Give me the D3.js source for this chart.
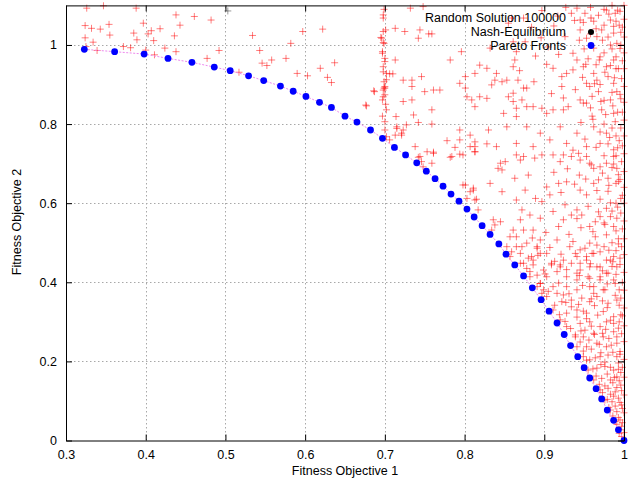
<!DOCTYPE html>
<html><head><meta charset="utf-8">
<script src="https://cdn.jsdelivr.net/npm/d3@7/dist/d3.min.js"></script>
<style>body{margin:0;background:#fff}svg text{font-family:"Liberation Sans",Arial,sans-serif}</style>
</head><body><svg id="c" width="629" height="484"></svg>
<script>
const xTicks=[0.3,0.4,0.5,0.6,0.7,0.8,0.9,1.0];
const xTickLabels=["0.3","0.4","0.5","0.6","0.7","0.8","0.9","1"];
const yTicks=[0,0.2,0.4,0.6,0.8,1.0];
const yTickLabels=["0","0.2","0.4","0.6","0.8","1"];
const xTitle="Fitness Objective 1";
const yTitle="Fitness Objective 2";
const legendLabels=["Random Solution 100000","Nash-Equilibrium","Pareto Fronts"];

const paretoX=[0.323,0.361,0.398,0.428,0.458,0.486,0.506,0.529,0.548,0.569,0.585,0.601,0.618,0.633,0.650,0.665,0.682,0.697,0.712,0.726,0.740,0.752,0.763,0.773,0.783,0.793,0.803,0.812,0.822,0.832,0.843,0.852,0.863,0.874,0.885,0.896,0.906,0.916,0.925,0.933,0.942,0.950,0.957,0.965,0.972,0.979,0.987,0.993,1.0];
const paretoY=[0.989,0.983,0.977,0.966,0.956,0.944,0.935,0.922,0.910,0.896,0.883,0.870,0.855,0.842,0.820,0.805,0.785,0.764,0.741,0.722,0.702,0.681,0.662,0.643,0.623,0.605,0.585,0.565,0.543,0.521,0.497,0.471,0.444,0.416,0.386,0.356,0.327,0.297,0.268,0.240,0.212,0.184,0.158,0.131,0.105,0.077,0.051,0.027,0.0];

const randomLeft=[[0.326,1.093],[0.347,1.099],[0.388,1.093],[0.324,1.049],[0.332,1.042],[0.343,1.040],[0.354,1.052],[0.355,1.025],[0.324,1.018],[0.334,1.007],[0.325,0.996],[0.339,0.986],[0.372,0.996],[0.381,0.993],[0.385,1.030],[0.389,1.013],[0.397,1.055],[0.403,1.028],[0.407,1.036],[0.410,1.011],[0.418,1.041],[0.438,1.076],[0.443,1.050],[0.436,1.023],[0.424,0.992],[0.438,0.983],[0.411,0.975],[0.400,0.987],[0.461,1.072],[0.482,1.063],[0.477,0.966],[0.492,0.986],[0.534,1.024],[0.543,0.986],[0.546,0.954],[0.552,0.948],[0.558,0.962],[0.576,0.966],[0.582,1.004],[0.597,1.034],[0.622,1.040],[0.590,0.928],[0.603,0.922],[0.619,0.941],[0.637,0.955],[0.628,0.918],[0.633,0.905],[0.517,0.931],[0.676,0.848],[0.687,0.882],[0.677,0.846],[0.686,0.884]];
const randomColumn=[[0.698,1.068],[0.696,1.017],[0.699,1.004],[0.697,0.979],[0.701,1.038],[0.700,0.958],[0.698,0.932],[0.702,0.912],[0.699,0.891],[0.700,0.874],[0.697,0.861],[0.695,1.019],[0.698,1.006],[0.697,0.983],[0.699,0.907],[0.700,0.895],[0.698,0.886],[0.706,0.927],[0.710,0.927],[0.714,0.819],[0.715,0.789],[0.721,0.777],[0.702,0.768],[0.698,1.076],[0.698,1.034],[0.700,0.966],[0.698,0.945],[0.702,0.928],[0.700,0.891],[0.698,0.869],[0.702,0.836],[0.700,0.806],[0.700,0.785],[0.699,1.090],[0.701,0.850],[0.697,0.820]];
const randomUpper=[[0.713,1.042],[0.713,0.962],[0.725,1.034],[0.732,1.093],[0.744,1.038],[0.755,1.028],[0.759,1.028],[0.742,1.017],[0.748,1.097],[0.723,0.911],[0.734,0.911],[0.734,0.895],[0.746,0.920],[0.750,0.882],[0.761,0.886],[0.769,0.886],[0.723,0.857],[0.734,0.861],[0.736,0.823],[0.759,0.836],[0.782,0.962],[0.796,0.983],[0.794,0.903],[0.801,0.920],[0.801,0.891],[0.803,0.869],[0.813,0.928],[0.819,0.949],[0.828,0.941],[0.840,0.928],[0.838,0.911],[0.847,0.907],[0.853,0.911],[0.861,0.878],[0.855,0.869],[0.861,0.857],[0.874,0.891],[0.878,0.891],[0.867,0.911],[0.872,0.861],[0.878,0.844],[0.886,0.844],[0.865,0.840],[0.861,0.945],[0.863,0.962],[0.865,0.983],[0.861,1.008],[0.855,1.055],[0.859,1.068],[0.874,1.068],[0.832,0.992],[0.834,0.899],[0.809,0.861],[0.813,0.844],[0.819,0.869],[0.828,0.865],[0.911,0.941],[0.922,0.920],[0.922,0.895],[0.928,0.928],[0.936,0.937],[0.930,0.844],[0.911,0.836],[0.897,0.840],[0.934,1.080],[0.941,1.093],[0.945,1.063],[0.945,1.038],[0.951,1.080],[0.953,1.017],[0.936,0.979],[0.941,0.962],[0.949,0.945],[0.962,0.928],[0.953,0.903],[0.957,0.895],[0.966,0.911],[0.945,0.861],[0.953,0.853],[0.968,0.882],[0.962,0.992],[0.970,0.970],[0.978,0.945],[0.987,0.962],[0.966,1.021],[0.972,1.038],[0.983,1.063],[0.978,1.088],[0.989,1.080],[0.987,1.030],[0.991,1.004],[0.987,0.903],[0.983,0.861],[0.991,0.882],[0.972,0.836],[0.987,0.827]];
const randomMiddle=[[0.753,0.730],[0.761,0.726],[0.784,0.718],[0.813,0.730],[0.845,0.701],[0.847,0.684],[0.851,0.705],[0.865,0.722],[0.870,0.709],[0.874,0.718],[0.863,0.663],[0.880,0.671],[0.888,0.714],[0.897,0.722],[0.911,0.722],[0.924,0.722],[0.920,0.705],[0.934,0.718],[0.943,0.726],[0.945,0.709],[0.953,0.718],[0.957,0.701],[0.962,0.688],[0.970,0.692],[0.978,0.701],[0.980,0.663],[0.987,0.718],[0.991,0.688],[0.968,0.659],[0.945,0.633],[0.953,0.621],[0.962,0.650],[0.918,0.650],[0.928,0.654],[0.907,0.621],[0.897,0.604],[0.865,0.608],[0.876,0.633],[0.872,0.583],[0.882,0.570],[0.870,0.558],[0.874,0.532],[0.861,0.532],[0.865,0.515],[0.886,0.532],[0.878,0.499],[0.891,0.490],[0.865,0.490],[0.857,0.465],[0.870,0.473],[0.880,0.461],[0.895,0.507],[0.903,0.473],[0.909,0.448],[0.916,0.507],[0.924,0.558],[0.934,0.570],[0.941,0.583],[0.947,0.570],[0.957,0.541],[0.964,0.553],[0.970,0.566],[0.978,0.587],[0.983,0.566],[0.987,0.541],[0.978,0.520],[0.964,0.515],[0.957,0.499],[0.945,0.482],[0.941,0.465],[0.934,0.448],[0.953,0.465],[0.962,0.473],[0.970,0.477],[0.978,0.456],[0.987,0.465],[0.970,0.439],[0.957,0.439],[0.945,0.431],[0.928,0.414],[0.941,0.406],[0.957,0.410],[0.970,0.414],[0.980,0.423],[0.987,0.406],[0.962,0.389],[0.974,0.381],[0.941,0.381],[0.924,0.368],[0.903,0.364],[0.911,0.389],[0.903,0.414],[0.895,0.397],[0.899,0.431],[0.920,0.439],[0.924,0.456],[0.798,0.646],[0.811,0.633],[0.813,0.608],[0.817,0.583],[0.836,0.558],[0.845,0.553],[0.832,0.650],[0.847,0.629],[0.798,0.722],[0.857,0.515],[0.853,0.490],[0.859,0.477],[0.870,0.448],[0.878,0.435],[0.886,0.456],[0.882,0.414],[0.891,0.389],[0.897,0.372]];
const randomBridge=[[0.715,0.793],[0.723,0.785],[0.727,0.798],[0.742,0.804],[0.759,0.800],[0.713,0.772],[0.721,0.772],[0.706,0.760],[0.778,0.758],[0.794,0.760],[0.807,0.772],[0.830,0.785],[0.788,0.741],[0.813,0.743],[0.828,0.750],[0.813,0.730],[0.794,0.724],[0.782,0.716],[0.742,0.716],[0.761,0.729],[0.746,0.705],[0.759,0.701],[0.748,0.692],[0.842,0.688],[0.801,0.646],[0.811,0.638],[0.807,0.629],[0.815,0.610],[0.803,0.612],[0.838,0.545],[0.834,0.532],[0.738,0.743],[0.744,0.718],[0.794,0.785],[0.807,0.743],[0.813,0.755],[0.840,0.743],[0.853,0.793],[0.865,0.751],[0.878,0.793],[0.886,0.743],[0.895,0.777],[0.907,0.760],[0.920,0.793],[0.928,0.751],[0.941,0.777],[0.953,0.743],[0.962,0.793],[0.970,0.751],[0.978,0.777],[0.987,0.735],[0.865,0.819],[0.849,0.827],[0.903,0.827],[0.924,0.836],[0.949,0.853]];
const randomLower=[[0.872,0.490],[0.891,0.486],[0.895,0.473],[0.884,0.465],[0.874,0.448],[0.886,0.444],[0.882,0.427],[0.891,0.418],[0.895,0.397],[0.899,0.381],[0.909,0.444],[0.920,0.444],[0.916,0.427],[0.932,0.490],[0.939,0.473],[0.945,0.448],[0.953,0.456],[0.960,0.473],[0.966,0.439],[0.941,0.423],[0.955,0.414],[0.970,0.406],[0.978,0.423],[0.983,0.456],[0.991,0.439],[0.989,0.397],[0.976,0.381],[0.957,0.389],[0.928,0.389],[0.916,0.372],[0.922,0.351],[0.934,0.355],[0.947,0.360],[0.957,0.351],[0.966,0.364],[0.980,0.347],[0.991,0.355],[0.911,0.330],[0.928,0.322],[0.941,0.330],[0.953,0.322],[0.974,0.326],[0.987,0.313],[0.920,0.305],[0.928,0.288],[0.945,0.296],[0.957,0.300],[0.970,0.288],[0.978,0.300],[0.939,0.267],[0.949,0.262],[0.962,0.271],[0.974,0.262],[0.987,0.275],[0.941,0.237],[0.953,0.237],[0.966,0.246],[0.978,0.237],[0.991,0.246],[0.949,0.212],[0.957,0.204],[0.970,0.212],[0.980,0.216],[0.991,0.212],[0.955,0.178],[0.966,0.183],[0.976,0.187],[0.987,0.178],[0.962,0.153],[0.972,0.157],[0.983,0.153],[0.991,0.161],[0.970,0.128],[0.980,0.132],[0.989,0.123],[0.976,0.102],[0.985,0.098],[0.993,0.107],[0.983,0.077],[0.991,0.073],[0.989,0.048],[0.995,0.052],[0.995,0.027],[0.997,0.010]];
const randomEdge=[[1.0,0.02],[0.998,0.045],[1.0,0.07],[0.997,0.09],[1.0,0.115],[0.996,0.14],[1.0,0.16],[0.998,0.185],[1.0,0.205],[0.995,0.225],[1.0,0.25],[0.997,0.27],[1.0,0.29],[0.998,0.315],[1.0,0.335],[0.996,0.36],[1.0,0.38],[0.998,0.4],[1.0,0.425],[0.995,0.445],[1.0,0.47],[0.997,0.49],[1.0,0.51],[0.998,0.535],[1.0,0.555],[0.996,0.575],[1.0,0.6],[0.998,0.62],[1.0,0.64],[0.995,0.66],[1.0,0.68],[0.997,0.705],[1.0,0.725],[0.998,0.745],[1.0,0.77],[0.996,0.79],[1.0,0.81],[0.998,0.83],[1.0,0.855],[0.995,0.875],[1.0,0.895],[0.997,0.915],[1.0,0.94],[0.998,0.96],[1.0,0.98],[0.996,1.0],[1.0,1.02],[0.998,1.045],[1.0,1.065],[0.995,1.085],[1.0,1.1],[0.993,0.655],[0.992,0.59],[0.993,0.51],[0.992,0.83],[0.993,0.94],[0.994,1.05],[0.992,0.74],[0.994,0.3],[0.993,0.18],[0.958,1.095],[0.962,1.06],[0.968,1.075],[0.975,1.05],[0.98,1.02],[0.985,0.99],[0.975,0.98],[0.965,0.95],[0.98,0.92],[0.99,0.94],[0.97,0.9],[0.96,0.87],[0.975,0.86],[0.985,0.88],[0.99,0.97],[0.95,0.99],[0.955,0.965],[0.983,1.0],[0.99,1.06],[0.975,1.09],[0.985,1.1],[0.96,0.82],[0.975,0.8],[0.985,0.79],[0.99,0.77],[0.97,0.78],[0.98,0.75],[0.99,0.72],[0.975,0.72],[0.985,0.69],[0.99,0.65],[0.98,0.63],[0.97,0.61],[0.99,0.6],[0.985,0.58],[0.975,0.55],[0.99,0.53],[0.985,0.5],[0.975,0.49],[0.99,0.48],[0.985,0.44],[0.99,0.42]];
const randomDense=[[0.994,0.018],[0.997,0.036],[0.991,0.041],[0.986,0.062],[0.993,0.058],[0.998,0.081],[0.981,0.083],[0.989,0.087],[0.979,0.104],[0.987,0.112],[0.995,0.096],[0.973,0.121],[0.983,0.117],[0.991,0.134],[0.997,0.126],[0.969,0.142],[0.976,0.138],[0.986,0.146],[0.994,0.151],[0.965,0.163],[0.979,0.168],[0.988,0.159],[0.996,0.172],[0.961,0.181],[0.971,0.192],[0.983,0.185],[0.993,0.196],[0.953,0.203],[0.964,0.209],[0.976,0.198],[0.986,0.223],[0.995,0.218],[0.949,0.226],[0.959,0.231],[0.971,0.222],[0.984,0.241],[0.945,0.249],[0.956,0.254],[0.969,0.243],[0.981,0.258],[0.991,0.262],[0.939,0.262],[0.951,0.279],[0.963,0.268],[0.977,0.281],[0.993,0.284],[0.933,0.283],[0.946,0.277],[0.959,0.289],[0.973,0.271],[0.987,0.296],[0.926,0.301],[0.941,0.312],[0.953,0.308],[0.967,0.317],[0.983,0.304],[0.996,0.318],[0.919,0.318],[0.934,0.338],[0.949,0.327],[0.963,0.341],[0.979,0.336],[0.994,0.342],[0.913,0.342],[0.927,0.349],[0.943,0.344],[0.959,0.358],[0.973,0.353],[0.989,0.367],[0.905,0.377],[0.918,0.398],[0.931,0.371],[0.948,0.392],[0.962,0.372],[0.979,0.396],[0.994,0.381],[0.901,0.421],[0.913,0.453],[0.928,0.432],[0.944,0.417],[0.958,0.447],[0.973,0.429],[0.986,0.452],[0.995,0.461],[0.892,0.468],[0.907,0.488],[0.921,0.471],[0.936,0.503],[0.951,0.486],[0.966,0.494],[0.981,0.481],[0.993,0.497],[0.885,0.512],[0.902,0.526],[0.918,0.541],[0.931,0.521],[0.946,0.538],[0.961,0.528],[0.976,0.546],[0.991,0.562],[0.895,0.562],[0.911,0.579],[0.926,0.596],[0.941,0.561],[0.955,0.592],[0.968,0.578],[0.983,0.601],[0.996,0.612],[0.889,0.612],[0.903,0.641],[0.921,0.627],[0.938,0.648],[0.952,0.661],[0.966,0.632],[0.981,0.645],[0.993,0.672],[0.912,0.678],[0.929,0.687],[0.944,0.671],[0.959,0.697],[0.973,0.676],[0.987,0.699],[0.936,0.734],[0.951,0.762],[0.965,0.741],[0.982,0.766],[0.994,0.758],[0.946,0.804],[0.961,0.812],[0.977,0.824],[0.989,0.806],[0.958,0.841],[0.971,0.857],[0.986,0.846],[0.996,0.864],[0.948,0.918],[0.963,0.902],[0.976,0.931],[0.988,0.917],[0.952,0.951],[0.969,0.962],[0.983,0.948],[0.995,0.991],[0.944,1.012],[0.958,1.028],[0.973,1.012],[0.987,1.047],[0.996,1.032],[0.949,1.057],[0.965,1.041],[0.981,1.078],[0.992,1.088],[0.938,1.062],[0.927,1.095],[0.917,1.073],[0.912,1.048],[0.905,0.995],[0.918,0.976],[0.926,1.021],[0.896,1.018],[0.889,0.972],[0.903,0.951],[0.884,1.045],[0.897,1.087],[0.876,1.008],[0.869,0.935],[0.887,0.907],[0.909,0.877],[0.924,0.866],[0.939,0.887]];
const grayPoints=[[0.503,1.086]];

const randomPoints=[].concat(randomLeft,randomColumn,randomUpper,randomMiddle,randomBridge,randomLower,randomEdge,randomDense);

const svg=d3.select("#c");
const x=d3.scaleLinear().domain([0.3,1]).range([66,624]);
const y=d3.scaleLinear().domain([0,1.1]).range([440.5,5.4]);
const FS=12.5;

const grid=svg.append("g").attr("stroke","#a8a8a8").attr("stroke-width",1).attr("stroke-dasharray","1.5,2.5");
grid.selectAll(".gx").data(xTicks.slice(1,-1)).join("line")
  .attr("x1",d=>Math.round(x(d))+0.5).attr("x2",d=>Math.round(x(d))+0.5).attr("y1",y(0)).attr("y2",y(1.1));
grid.selectAll(".gy").data(yTicks.slice(1)).join("line")
  .attr("y1",d=>Math.round(y(d))+0.5).attr("y2",d=>Math.round(y(d))+0.5).attr("x1",x(0.3)).attr("x2",x(1));

function plus(g,data,color,op){
  g.selectAll("path").data(data).join("path")
   .attr("d",d=>{const px=x(d[0]),py=y(d[1]);return `M${px-3.5},${py}H${px+3.5}M${px},${py-3.5}V${py+3.5}`;})
   .attr("stroke",color).attr("stroke-opacity",op).attr("stroke-width",1).attr("fill","none");
}
plus(svg.append("g"),randomPoints,"#ff0000",0.5);
plus(svg.append("g"),grayPoints,"#000000",0.4);

const pareto=paretoX.map((v,i)=>[v,paretoY[i]]);
svg.append("path").datum(pareto)
  .attr("d",d3.line().x(d=>x(d[0])).y(d=>y(d[1])))
  .attr("fill","none").attr("stroke","#ee88ee").attr("stroke-width",1).attr("stroke-dasharray","2,1.5");
svg.append("g").selectAll("circle").data(pareto).join("circle")
  .attr("cx",d=>x(d[0])).attr("cy",d=>y(d[1])).attr("r",3.4).attr("fill","#0000ff");

const fmtX=d=>xTickLabels[xTicks.findIndex(t=>Math.abs(t-d)<1e-9)];
const fmtY=d=>yTickLabels[yTicks.findIndex(t=>Math.abs(t-d)<1e-9)];
const ax=svg.append("g").attr("transform",`translate(0,${y(0)})`)
  .call(d3.axisBottom(x).tickValues(xTicks).tickFormat(fmtX).tickSizeInner(-6).tickSizeOuter(0).tickPadding(10));
const ay=svg.append("g").attr("transform",`translate(${x(0.3)},0)`)
  .call(d3.axisLeft(y).tickValues(yTicks).tickFormat(fmtY).tickSizeInner(-6).tickSizeOuter(0).tickPadding(9));
const at=svg.append("g").attr("transform",`translate(0,${y(1.1)})`)
  .call(d3.axisTop(x).tickValues(xTicks).tickFormat("").tickSizeInner(-6).tickSizeOuter(0));
const ar=svg.append("g").attr("transform",`translate(${x(1)},0)`)
  .call(d3.axisRight(y).tickValues(yTicks).tickFormat("").tickSizeInner(-6).tickSizeOuter(0));
[ax,ay,at,ar].forEach(g=>{g.selectAll("path,line").attr("stroke","#000").attr("stroke-width",1);
  g.selectAll("text").attr("font-size",FS).attr("fill","#000").attr("font-family","'Liberation Sans',Arial,sans-serif");});

svg.append("text").attr("x",345).attr("y",475).attr("text-anchor","middle").attr("font-size",FS).text(xTitle);
svg.append("text").attr("transform","translate(21,222) rotate(-90)").attr("text-anchor","middle").attr("font-size",FS).text(yTitle);

const lg=svg.append("g");
const ly=[18,32,45.5];
lg.selectAll("text").data(legendLabels).join("text")
  .attr("x",566).attr("y",(d,i)=>ly[i]+4.4).attr("text-anchor","end").attr("font-size",FS).attr("fill","#000").text(d=>d);
plus(lg.append("g"),[[x.invert(591),y.invert(ly[0])]],"#ff0000",0.6);
lg.append("circle").attr("cx",591).attr("cy",ly[1]).attr("r",3).attr("fill","#000");
lg.append("circle").attr("cx",591).attr("cy",ly[2]).attr("r",3.4).attr("fill","#0000ff");
</script></body></html>
